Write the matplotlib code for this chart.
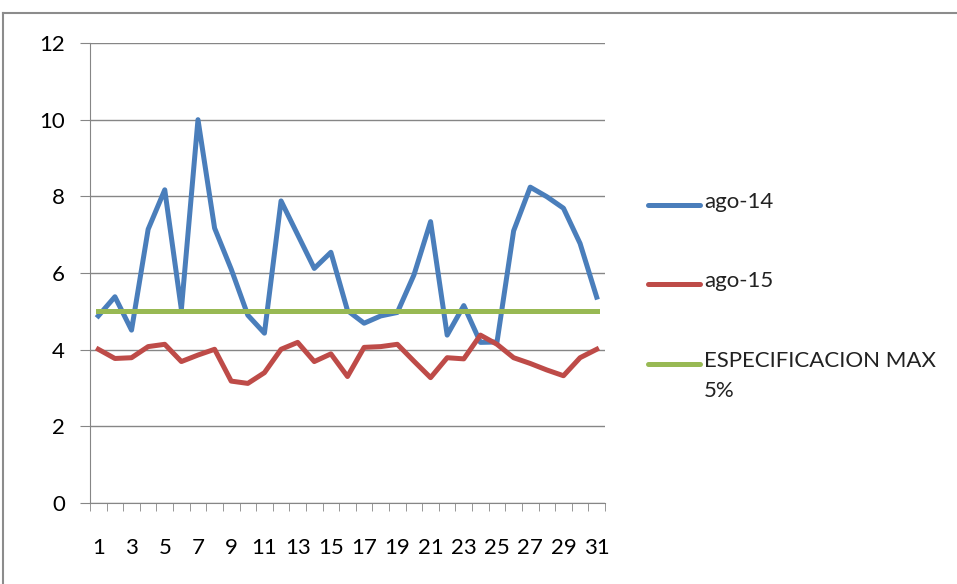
import numpy as np
import matplotlib
matplotlib.use("Agg")
import matplotlib.pyplot as plt
from matplotlib.lines import Line2D

plt.rcParams['font.family'] = ['Lato', 'DejaVu Sans']

dias = list(range(1, 32))
ago14 = [4.88, 5.38, 4.51, 7.14, 8.17, 5.05, 10.0, 7.17, 6.1, 4.9,
         4.43, 7.88, 7.0, 6.12, 6.54, 5.02, 4.69, 4.88, 4.97, 5.95,
         7.34, 4.38, 5.15, 4.19, 4.2, 7.1, 8.24, 7.99, 7.69, 6.77, 5.37]
ago15 = [4.01, 3.77, 3.79, 4.08, 4.14, 3.69, 3.86, 4.01, 3.18, 3.12,
         3.40, 4.01, 4.19, 3.69, 3.89, 3.30, 4.06, 4.08, 4.14, 3.70,
         3.27, 3.79, 3.76, 4.38, 4.14, 3.79, 3.64, 3.47, 3.32, 3.79, 4.01]
espec = [5] * 31
etiquetas = ['ago-14', 'ago-15', 'ESPECIFICACION MAX\n5%']
colores = ['#4A7EBB', '#BE4B48', '#98B954']

W, H = 957, 584
fig = plt.figure(figsize=(W / 100, H / 100), dpi=100)
ax = fig.add_axes([90 / W, 81 / H, 515 / W, 460 / H])

for serie, c in zip([ago14, ago15, espec], colores):
    ax.plot(dias, serie, color=c, lw=3.6)

ax.set_xlim(0.5, 31.5)
ax.set_ylim(0, 12)
ax.set_yticks(range(0, 13, 2))
ax.set_xticks(dias[::2])
ax.set_xticks(np.arange(0.5, 32, 1), minor=True)
ax.tick_params(axis='x', which='major', length=0, pad=25, labelsize=16)
ax.tick_params(axis='x', which='minor', length=6, color='#868686', direction='out')
ax.tick_params(axis='y', length=7, color='#868686', pad=11, labelsize=16)

ax.grid(axis='y', color='#868686', lw=1)
ax.set_axisbelow(True)
for s in ['top', 'right']:
    ax.spines[s].set_visible(False)
for s in ['left', 'bottom']:
    ax.spines[s].set_color('#868686')

# leyenda a mano (Excel alinea la linea con el primer renglon)
ley_y = [205, 284, 364]
for y, c, t in zip(ley_y, colores, etiquetas):
    fy = 1 - y / H
    fig.add_artist(Line2D([648 / W, 700 / W], [fy, fy], color=c, lw=3.6,
                          solid_capstyle='round'))
    fig.text(704 / W, 1 - (y - 13) / H, t, fontsize=16, va='top',
             ha='left', linespacing=1.65, color='#222222')

# marco exterior del grafico
fig.add_artist(Line2D([3 / W, 3 / W], [0, 1 - 13 / H], color='#8c8c8c', lw=1.5))
fig.add_artist(Line2D([3 / W, 1], [1 - 13 / H, 1 - 13 / H], color='#8c8c8c', lw=1.5))

fig.savefig('out.png', dpi=100)
